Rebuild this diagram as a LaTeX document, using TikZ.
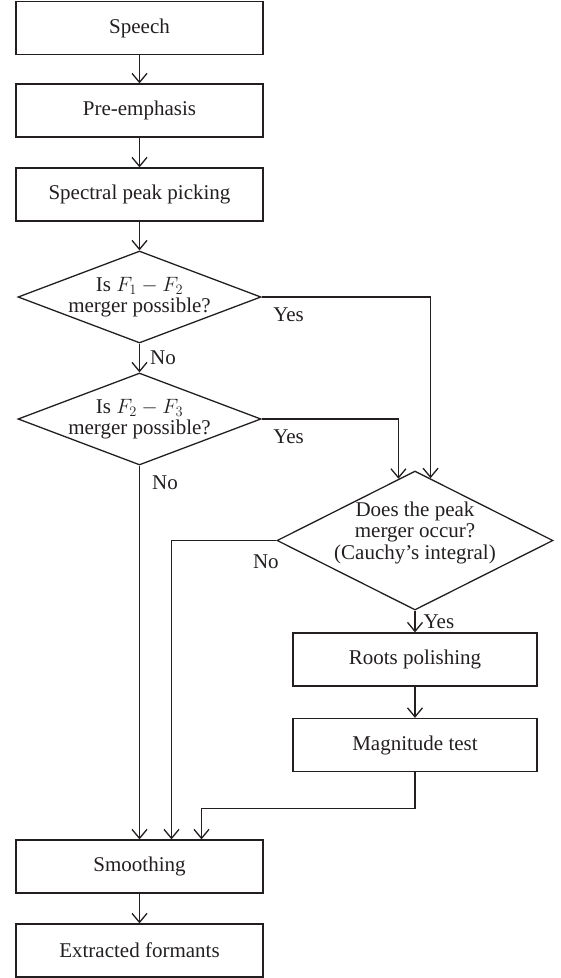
\documentclass[tikz,border=0pt]{standalone}
\usepackage{fontspec}
\setmainfont{Liberation Serif}
\usetikzlibrary{shapes.geometric,arrows.meta,positioning}
\definecolor{ink}{HTML}{231F20}
\tikzset{
	box/.style={draw=ink, rectangle, minimum width=247pt, minimum height=53pt, inner sep=0pt, text=ink},
	rbox/.style={box, minimum width=244pt},
	decision/.style={draw=ink, diamond, inner sep=0pt, minimum width=243pt, minimum height=92pt},
	dtext/.style={align=center, text=ink, inner sep=0pt},
	flow/.style={draw=ink, -{Straight Barb[length=9pt,width=15pt]}},
	lbl/.style={text=ink, inner sep=2pt}
}
\begin{document}
\begin{tikzpicture}[x=1pt,y=-1pt,line width=1.3pt,font=\fontsize{21}{21.5}\selectfont]
			\useasboundingbox (0,0) rectangle (561,978);
			\node[box] (speech) at (139.5,28) {Speech};
			\node[box] (preemph) at (139.5,110.5) {Pre-emphasis};
			\node[box] (peakpick) at (139.5,194.5) {Spectral peak picking};
			\node[decision] (dec1) at (139.5,297) {};
			\node[dtext] (dec1txt) at (dec1) {Is $F_1 - F_2$\\merger possible?};
			\node[decision] (dec2) at (139.5,419) {};
			\node[dtext] (dec2txt) at (dec2) {Is $F_2 - F_3$\\merger possible?};
			\node[decision, minimum width=276pt, minimum height=139pt] (dec3) at (415,540.5) {};
			\node[dtext, yshift=8pt] (dec3txt) at (dec3) {Does the peak\\merger occur?\\(Cauchy's integral)};
			\node[rbox] (roots) at (415,659.5) {Roots polishing};
			\node[rbox] (magtest) at (415,745) {Magnitude test};
			\node[box] (smooth) at (139.5,866.5) {Smoothing};
			\node[box] (formants) at (139.5,950.5) {Extracted formants};
			\draw[flow] (speech) -- (preemph);
			\draw[flow] (preemph) -- (peakpick);
			\draw[flow] (peakpick) -- (dec1.north);
			\draw[flow] (dec1.south) -- node[lbl, right=8pt] (no1) {No} (dec2.north);
			\draw[flow] (dec1.east) node[lbl, anchor=north west, xshift=9pt, yshift=-8pt] (yes1) {Yes} -| (dec3.76);
			\draw[flow] (dec2.east) node[lbl, anchor=north west, xshift=9pt, yshift=-8pt] (yes2) {Yes} -| (dec3.105);
			\draw[flow] (dec2.south) node[lbl, anchor=north west, xshift=10pt, yshift=-7pt] (no2) {No} -- (smooth.north);
			\draw[flow] (dec3.west) node[lbl, anchor=north east, xshift=5pt, yshift=-12pt] (no3) {No} -| ([xshift=32pt]smooth.north);
			\draw[flow] (dec3.south) node[lbl, anchor=north west, xshift=6pt, yshift=-1pt] (yes3) {Yes} -- (roots.north);
			\draw[flow] (roots) -- (magtest);
			\draw[flow] (magtest.south) -- ++(0,36) -| ([xshift=62pt]smooth.north);
			\draw[flow] (smooth) -- (formants);
		\end{tikzpicture}
\end{document}
